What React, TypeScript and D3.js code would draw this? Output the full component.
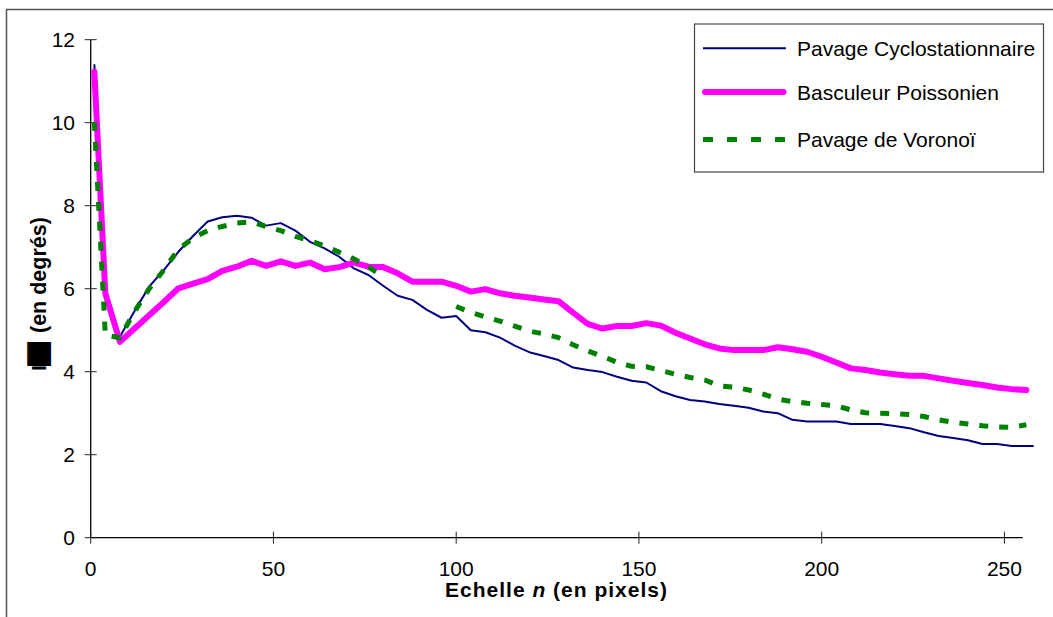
import React from "react";
import * as d3 from "d3";

// Scale n (pixels)
const nValues = [
  1, 4, 8, 12, 16, 20, 24, 28, 32, 36, 40, 44, 48, 52, 56, 60, 64, 68, 72, 76,
  80, 84, 88, 92, 96, 100, 104, 108, 112, 116, 120, 124, 128, 132, 136, 140,
  144, 148, 152, 156, 160, 164, 168, 172, 176, 180, 184, 188, 192, 196, 200,
  204, 208, 212, 216, 220, 224, 228, 232, 236, 240, 244, 248, 252, 256,
];

// Pavage Cyclostationnaire
const cycloValues = [
  11.41, 5.92, 4.84, 5.46, 6.05, 6.45, 6.89, 7.27, 7.62, 7.72, 7.76, 7.71, 7.52, 7.58, 7.4, 7.13, 6.97, 6.77, 6.49, 6.33,
  6.07, 5.83, 5.73, 5.49, 5.3, 5.34, 5.0, 4.95, 4.82, 4.63, 4.47, 4.38, 4.28, 4.1, 4.04, 3.99,
  3.88, 3.78, 3.74, 3.53, 3.41, 3.32, 3.28, 3.22, 3.18, 3.13, 3.04, 3.0, 2.84, 2.8, 2.8,
  2.8, 2.74, 2.74, 2.74, 2.69, 2.64, 2.54, 2.45, 2.4, 2.35, 2.26, 2.26, 2.21, 2.21,
];
const cycloTailN = 258;
const cycloTailValue = 2.21;

// Basculeur Poissonien
const poissonValues = [
  11.23, 5.89, 4.72, 5.04, 5.36, 5.68, 6.01, 6.12, 6.23, 6.43, 6.53, 6.67, 6.55, 6.66, 6.55, 6.63, 6.47, 6.52, 6.63, 6.53,
  6.52, 6.37, 6.17, 6.17, 6.17, 6.07, 5.93, 5.99, 5.89, 5.83, 5.79, 5.74, 5.7, 5.42, 5.15, 5.04,
  5.1, 5.1, 5.17, 5.11, 4.94, 4.8, 4.66, 4.56, 4.52, 4.52, 4.52, 4.59, 4.54, 4.48, 4.36,
  4.22, 4.08, 4.04, 3.98, 3.94, 3.9, 3.9, 3.84, 3.78, 3.73, 3.68, 3.62, 3.58, 3.56,
];

// Pavage de Voronoï (null = missing)
const voronoiValues: (number | null)[] = [
  10.02, 4.88, 4.82, 5.45, 6.0, 6.45, 6.95, 7.22, 7.4, 7.5, 7.58, 7.61, 7.5, 7.4, 7.26, 7.16, 7.03, 6.88, 6.72, 6.52,
  6.3, null, null, null, null, 5.57, 5.43, 5.32, 5.22, 5.1, 4.98, 4.91, 4.82, 4.65, 4.5, 4.37,
  4.23, 4.13, 4.12, 4.03, 3.94, 3.86, 3.8, 3.66, 3.63, 3.56, 3.46, 3.34, 3.28, 3.24, 3.21,
  3.18, 3.08, 3.01, 3.0, 2.99, 2.97, 2.92, 2.84, 2.78, 2.74, 2.7, 2.67, 2.66, 2.72,
];

const xTicks = [0, 50, 100, 150, 200, 250];
const yTicks = [0, 2, 4, 6, 8, 10, 12];

const legendLabels = ["Pavage Cyclostationnaire", "Basculeur Poissonien", "Pavage de Voronoï"];

const FONT = "'Liberation Sans', Arial, sans-serif";

export default function App() {
  const W = 1053;
  const H = 617;
  const x = d3.scaleLinear().domain([0, 255]).range([90.7, 1022.7]);
  const y = d3.scaleLinear().domain([0, 12]).range([537.7, 39.7]);

  type P = { n: number; v: number | null };
  const line = d3
    .line<P>()
    .defined((d) => d.v !== null)
    .x((d) => x(d.n))
    .y((d) => y(d.v as number));

  const cyclo: P[] = nValues.map((n, i) => ({ n, v: cycloValues[i] }));
  cyclo.push({ n: cycloTailN, v: cycloTailValue });
  const poisson: P[] = nValues.map((n, i) => ({ n, v: poissonValues[i] }));
  const voronoi: P[] = nValues.map((n, i) => ({ n, v: voronoiValues[i] }));

  const x0 = x(0);
  const y0 = y(0);

  const legendRows = [
    { label: legendLabels[0], color: "#000080", width: 2, dash: undefined as string | undefined, cap: "butt" },
    { label: legendLabels[1], color: "#FF00FF", width: 6, dash: undefined, cap: "round" },
    { label: legendLabels[2], color: "#008000", width: 5, dash: "10,14", cap: "butt" },
  ];
  const legendY = [48.3, 92, 139.5];

  return (
    <svg
      width={W}
      height={H}
      style={{ position: "absolute", left: 0, top: 0, background: "#fff" }}
      fontFamily={FONT}
    >
      <rect x={0} y={0} width={W} height={H} fill="#fff" />
      {/* outer chart border */}
      <rect x={6.5} y={9.5} width={1200} height={800} fill="none" stroke="#555" strokeWidth={1.5} />

      {/* axes */}
      <line x1={x0} x2={x(255)} y1={y0} y2={y0} stroke="#000" strokeWidth={1.3} />
      <line x1={x0} x2={x0} y1={y0} y2={y(12)} stroke="#000" strokeWidth={1.3} />
      {xTicks.map((t) => (
        <g key={"xt" + t}>
          <line x1={x(t)} x2={x(t)} y1={y0 - 6} y2={y0 + 6} stroke="#222" strokeWidth={1} />
          <text x={x(t)} y={576} textAnchor="middle" fontSize={21} fill="#000">
            {t}
          </text>
        </g>
      ))}
      {yTicks.map((t) => (
        <g key={"yt" + t}>
          <line x1={x0 - 6} x2={x0 + 6} y1={y(t)} y2={y(t)} stroke="#222" strokeWidth={1} />
          <text x={75} y={y(t) + 7.5} textAnchor="end" fontSize={21} fill="#000">
            {t}
          </text>
        </g>
      ))}

      {/* series */}
      <path d={line(cyclo) || ""} fill="none" stroke="#000080" strokeWidth={2} strokeLinejoin="round" />
      <path
        d={line(poisson) || ""}
        fill="none"
        stroke="#FF00FF"
        strokeWidth={6}
        strokeLinejoin="round"
        strokeLinecap="round"
      />
      <path
        d={line(voronoi) || ""}
        fill="none"
        stroke="#008000"
        strokeWidth={5}
        strokeDasharray="9,11"
        strokeLinejoin="round"
      />

      {/* axis titles */}
      <text x={445} y={596.5} fontSize={21} fontWeight="bold" fill="#000" textLength={222} lengthAdjust="spacing">
        Echelle <tspan fontStyle="italic">n</tspan> (en pixels)
      </text>
      <g transform="translate(45.5,0) rotate(-90)">
        <text x={-371} y={0} fontSize={21} fontWeight="bold" fill="#000">
          I
        </text>
        <text
          x={-366}
          y={0}
          fontSize={20}
          fontFamily="'DejaVu Sans', sans-serif"
          fill="#000"
          textLength={23.5}
          lengthAdjust="spacingAndGlyphs"
        >
          █
        </text>
        <text x={-333} y={0} fontSize={21.5} fontWeight="bold" fill="#000">
          (en degrés)
        </text>
      </g>

      {/* legend */}
      <rect x={694.5} y={24} width={349} height={148} fill="#fff" stroke="#444" strokeWidth={1.2} />
      {legendRows.map((r, i) => (
        <g key={r.label}>
          <line
            x1={r.cap === "round" ? 705 : 703}
            x2={r.cap === "round" ? 783.5 : 786}
            y1={legendY[i]}
            y2={legendY[i]}
            stroke={r.color}
            strokeWidth={r.width}
            strokeDasharray={r.dash}
            strokeLinecap={r.cap as any}
          />
          <text x={797} y={legendY[i] + 7.5} fontSize={21} fill="#000">
            {r.label}
          </text>
        </g>
      ))}
    </svg>
  );
}
